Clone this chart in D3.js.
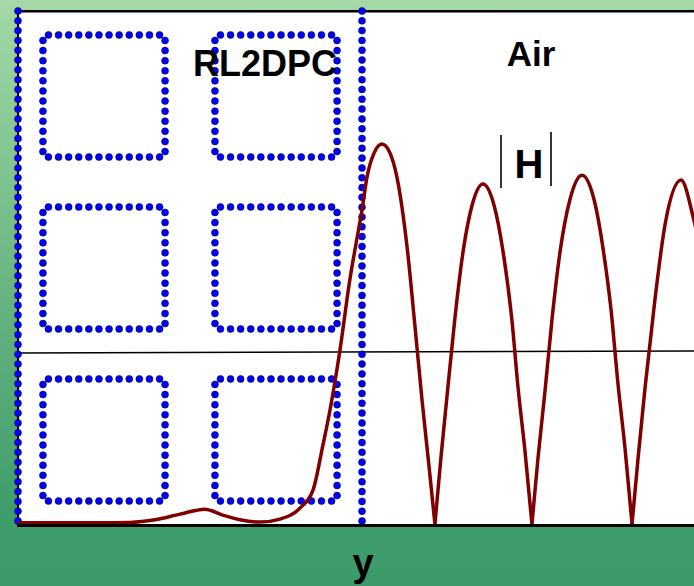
<!DOCTYPE html>
<html>
<head>
<meta charset="utf-8">
<script src="https://cdn.jsdelivr.net/npm/d3@7"></script>
<style>
    body { margin: 0; overflow: hidden; }
    text { font-family: "Liberation Sans", Arial, sans-serif; font-weight: bold; }
</style>
</head>
<body>
<div id="chart-area"></div>
<script>
// position across the structure (lattice units) and |H|
var yPos = [0.000, 0.244, 0.477, 0.651, 0.797, 0.942, 1.087, 1.186, 1.291, 1.407, 1.523, 1.640, 1.715, 1.773,
    1.814, 1.872, 1.930, 1.965, 2.000, 2.029, 2.070, 2.116, 2.163, 2.203, 2.262, 2.308, 2.349, 2.390, 2.424,
    2.459, 2.494, 2.541, 2.587, 2.640, 2.703, 2.767, 2.820, 2.872, 2.907, 2.948, 2.988,
    3.023, 3.064, 3.105, 3.151, 3.209, 3.279, 3.349, 3.407, 3.448, 3.488, 3.529, 3.570,
    3.605, 3.645, 3.703, 3.762, 3.855, 3.924, 3.994, 4.070, 4.140];
var absH = [0.003, 0.003, 0.003, 0.004, 0.011, 0.026, 0.039, 0.024, 0.011, 0.005, 0.013, 0.042, 0.089, 0.208,
    0.300, 0.458, 0.645, 0.737, 0.826, 0.913, 0.976, 1.000, 0.976, 0.913, 0.729, 0.520, 0.326, 0.150, 0.000,
    0.175, 0.335, 0.545, 0.715, 0.839, 0.895, 0.840, 0.717, 0.535, 0.360, 0.190, 0.000,
    0.172, 0.350, 0.540, 0.715, 0.854, 0.918, 0.854, 0.708, 0.563, 0.370, 0.200, 0.000,
    0.173, 0.356, 0.590, 0.788, 0.905, 0.810, 0.650, 0.343, 0.000];

// rods of the photonic crystal (cell centres, lattice units)
var rodCols = [0.5, 1.5];
var rodRows = [0.5, 1.5, 2.5];
var rodHalf = 0.355;
var dotsPerSide = 12;

// dotted boundaries and the horizontal cut line
var boundaries = [0, 2];
var cutZ = [1.994, 1.982];

var labels = ['RL2DPC', 'Air', 'H', 'y'];

var W = 694, H = 586;
var plot = { left: 18, top: 10, bottom: 525 };
var cell = 172;

var svg = d3.select('#chart-area')
    .append('svg')
    .attr('width', W)
    .attr('height', H);

var defs = svg.append('defs');
var grad = defs.append('linearGradient')
    .attr('id', 'bg')
    .attr('x1', 0).attr('y1', 0)
    .attr('x2', 0).attr('y2', 1);
grad.append('stop').attr('offset', '0%').attr('stop-color', '#a4d8a7');
grad.append('stop').attr('offset', '50%').attr('stop-color', '#67b480');
grad.append('stop').attr('offset', '88%').attr('stop-color', '#3f9c6b');
grad.append('stop').attr('offset', '100%').attr('stop-color', '#3d9a69');

svg.append('rect')
    .attr('width', W).attr('height', H)
    .attr('fill', 'url(#bg)');

var x = d3.scaleLinear()
    .domain([0, 4])
    .range([plot.left, plot.left + 4 * cell]);

var z = d3.scaleLinear()
    .domain([0, 3])
    .range([plot.top, plot.top + 3 * cell]);

var y = d3.scaleLinear()
    .domain([0, 1])
    .range([524, 144]);

// white plot area
svg.append('rect')
    .attr('x', plot.left)
    .attr('y', plot.top)
    .attr('width', W - plot.left)
    .attr('height', plot.bottom - plot.top)
    .attr('fill', '#ffffff');

svg.append('line')
    .attr('x1', plot.left).attr('x2', W)
    .attr('y1', plot.top + 1.2).attr('y2', plot.top + 1.2)
    .attr('stroke', '#000').attr('stroke-width', 2.5);
svg.append('line')
    .attr('x1', plot.left).attr('x2', plot.left)
    .attr('y1', plot.top).attr('y2', plot.bottom)
    .attr('stroke', '#000').attr('stroke-width', 2);

// cut line
svg.append('line')
    .attr('x1', x(0)).attr('y1', z(cutZ[0]))
    .attr('x2', x(4)).attr('y2', z(cutZ[1]))
    .attr('stroke', '#000').attr('stroke-width', 1.5);

// dots of the rods
var rodDots = [];
rodCols.forEach(c => {
    rodRows.forEach(r => {
        var x0 = x(c - rodHalf), x1 = x(c + rodHalf);
        var z0 = z(r - rodHalf), z1 = z(r + rodHalf);
        var inset = 5.5;
        for (var i = 0; i < dotsPerSide; i++) {
            var f = i / (dotsPerSide - 1);
            var tx = x0 + inset + f * (x1 - x0 - 2 * inset);
            var tz = z0 + inset + f * (z1 - z0 - 2 * inset);
            rodDots.push([tx, z0]);
            rodDots.push([tx, z1]);
            rodDots.push([x0, tz]);
            rodDots.push([x1, tz]);
        }
    });
});

// dotted boundaries
var nb = 53;
boundaries.forEach(b => {
    for (var i = 0; i < nb; i++) {
        rodDots.push([x(b), plot.top + 1 + i * (510 / (nb - 1))]);
    }
});

svg.append('g')
    .selectAll('circle')
    .data(rodDots)
    .enter()
    .append('circle')
    .attr('cx', d => d[0])
    .attr('cy', d => d[1])
    .attr('r', 3.5)
    .attr('fill', '#0000ff')
    .attr('stroke', '#000022')
    .attr('stroke-width', 0.5);

// |H| curve, split at the zeros so the dips stay sharp
var pts = yPos.map((p, i) => [p, absH[i]]);
var segs = [];
var cur = [];
pts.forEach((p, i) => {
    cur.push(p);
    if (p[1] === 0 && i > 0) {
        segs.push(cur);
        cur = [p];
    }
});
if (cur.length > 1) segs.push(cur);

var line = d3.line()
    .x(d => x(d[0]))
    .y(d => y(d[1]))
    .curve(d3.curveMonotoneX);

svg.append('g')
    .selectAll('path')
    .data(segs)
    .enter()
    .append('path')
    .attr('d', line)
    .attr('fill', 'none')
    .attr('stroke', '#800000')
    .attr('stroke-width', 3.5)
    .attr('stroke-linejoin', 'round');

// bottom axis line
svg.append('line')
    .attr('x1', plot.left - 1).attr('x2', W)
    .attr('y1', plot.bottom + 0.5).attr('y2', plot.bottom + 0.5)
    .attr('stroke', '#000').attr('stroke-width', 3);

// labels
svg.append('text')
    .attr('x', 265).attr('y', 76)
    .attr('text-anchor', 'middle')
    .attr('font-size', '36px')
    .text(labels[0]);

svg.append('text')
    .attr('x', 531).attr('y', 66)
    .attr('text-anchor', 'middle')
    .attr('font-size', '35px')
    .text(labels[1]);

svg.append('text')
    .attr('x', 529).attr('y', 178)
    .attr('text-anchor', 'middle')
    .attr('font-size', '40px')
    .text(labels[2]);
svg.append('line')
    .attr('x1', 501).attr('x2', 501).attr('y1', 135).attr('y2', 188)
    .attr('stroke', '#000').attr('stroke-width', 1.6);
svg.append('line')
    .attr('x1', 551).attr('x2', 551).attr('y1', 132).attr('y2', 186)
    .attr('stroke', '#000').attr('stroke-width', 1.6);

svg.append('text')
    .attr('x', 363).attr('y', 576)
    .attr('text-anchor', 'middle')
    .attr('font-size', '38px')
    .text(labels[3]);
</script>
</body>
</html>
